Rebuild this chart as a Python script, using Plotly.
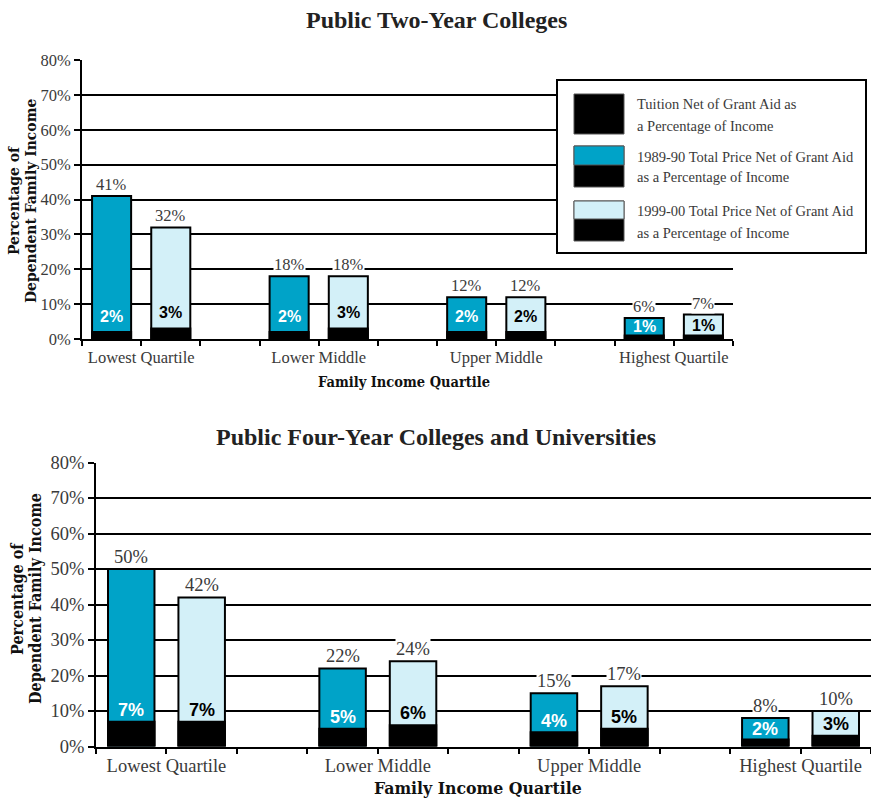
import plotly.graph_objects as go

# ---------------- data ----------------
categories = ["Lowest Quartile", "Lower Middle", "Upper Middle", "Highest Quartile"]

two_year_total_1989 = [41, 18, 12, 6]
two_year_total_1999 = [32, 18, 12, 7]
two_year_tuition_1989 = [2, 2, 2, 1]
two_year_tuition_1999 = [3, 3, 2, 1]

four_year_total_1989 = [50, 22, 15, 8]
four_year_total_1999 = [42, 24, 17, 10]
four_year_tuition_1989 = [7, 5, 4, 2]
four_year_tuition_1999 = [7, 6, 5, 3]

y_ticks = [0, 10, 20, 30, 40, 50, 60, 70, 80]
y_tick_labels = [f"{v}%" for v in y_ticks]

legend_labels = [
    ["Tuition Net of Grant Aid as", "a Percentage of Income"],
    ["1989-90 Total Price Net of Grant Aid", "as a Percentage of Income"],
    ["1999-00 Total Price Net of Grant Aid", "as a Percentage of Income"],
]

# ---------------- style ----------------
W, H = 871, 799
TEAL = "#00A3C8"
LIGHT = "#D3F0F8"
BLACK = "#000000"
TICKFONT = "Liberation Serif"
BOLDSERIF = "DejaVu Serif Condensed, DejaVu Serif"
TITLEFONT = "Liberation Serif"
INNERFONT = "Liberation Sans"
GREY = "#3a3a3a"


def px(x, y):
    return x / W, (H - y) / H


fig = go.Figure()

panels = [
    dict(xa="x", ya="y", t89=two_year_total_1989, t99=two_year_total_1999,
         u89=two_year_tuition_1989, u99=two_year_tuition_1999,
         off=4.5, lblsize=16.5, innersize=16),
    dict(xa="x2", ya="y2", t89=four_year_total_1989, t99=four_year_total_1999,
         u89=four_year_tuition_1989, u99=four_year_tuition_1999,
         off=3.3, lblsize=18.5, innersize=18),
]

BW = 0.66
annotations = []
for p in panels:
    x89 = [3 * i for i in range(len(categories))]
    x99 = [3 * i + 1 for i in range(len(categories))]
    for xs, tot, tui, col, tcol in [(x89, p["t89"], p["u89"], TEAL, "white"),
                                    (x99, p["t99"], p["u99"], LIGHT, "black")]:
        fig.add_trace(go.Bar(x=xs, y=tot, width=BW, marker=dict(color=col, line=dict(color=BLACK, width=2)),
                             xaxis=p["xa"], yaxis=p["ya"], showlegend=False, hoverinfo="skip"))
        fig.add_trace(go.Bar(x=xs, y=tui, width=BW, marker=dict(color=BLACK, line=dict(color=BLACK, width=2)),
                             xaxis=p["xa"], yaxis=p["ya"], showlegend=False, hoverinfo="skip"))
        for xv, tv, uv in zip(xs, tot, tui):
            annotations.append(dict(x=xv, y=tv, xref=p["xa"], yref=p["ya"], text=f"{tv}%",
                                    showarrow=False, yanchor="bottom", yshift=1, bgcolor="white",
                                    borderpad=0,
                                    font=dict(family=TICKFONT, size=p["lblsize"], color=GREY)))
            ly = uv + min(p["off"], (tv - uv) / 2.0)
            annotations.append(dict(x=xv, y=ly, xref=p["xa"], yref=p["ya"], text=f"<b>{uv}%</b>",
                                    showarrow=False, yanchor="middle",
                                    font=dict(family=INNERFONT, size=p["innersize"], color=tcol)))

fig.update_layout(barmode="overlay")

common_x = dict(range=[-0.5, 10.5], tickmode="array",
                tickvals=[3 * i + 0.5 for i in range(len(categories))], ticktext=categories,
                ticks="outside", ticklen=5, tickcolor=BLACK, tickwidth=1.5,
                showline=True, linecolor=BLACK, linewidth=2, showgrid=False, zeroline=False,
                minor=dict(ticks="outside", tickmode="linear", tick0=-0.5, dtick=1, ticklen=5,
                           tickcolor=BLACK, tickwidth=1.5, showgrid=False),
                fixedrange=True, automargin=False)
common_y = dict(range=[0, 80], tickmode="array", tickvals=y_ticks, ticktext=y_tick_labels,
                ticks="outside", ticklen=6, tickcolor=BLACK, tickwidth=1.5,
                showline=True, linecolor=BLACK, linewidth=2,
                showgrid=True, gridcolor=BLACK, gridwidth=1.5, zeroline=False, fixedrange=True,
                automargin=False)

fig.update_layout(
    xaxis=dict(common_x, domain=[82 / W, 733 / W], anchor="y", ticklabelstandoff=-3,
               tickfont=dict(family=TICKFONT, size=16.5, color=GREY)),
    yaxis=dict(common_y, domain=[(H - 339) / H, (H - 60) / H], anchor="x",
               tickfont=dict(family=TICKFONT, size=16.5, color=GREY)),
    xaxis2=dict(common_x, domain=[96 / W, 1.0], anchor="y2", ticklabelstandoff=-4,
                tickfont=dict(family=TICKFONT, size=18.5, color=GREY)),
    yaxis2=dict(common_y, domain=[(H - 746.5) / H, (H - 462.5) / H], anchor="x2",
                tickfont=dict(family=TICKFONT, size=18.5, color=GREY)),
)

# titles
for text, x, y, size in [("Public Two-Year Colleges", 436, 20, 24),
                         ("Public Four-Year Colleges and Universities", 436, 437, 24)]:
    xx, yy = px(x, y)
    annotations.append(dict(x=xx, y=yy, xref="paper", yref="paper", text=f"<b>{text}</b>",
                            showarrow=False, xanchor="center", yanchor="middle",
                            font=dict(family=TITLEFONT, size=size, color="#222")))

# x-axis titles
for x, y, size in [(404, 382, 14.5), (478, 788, 17.5)]:
    xx, yy = px(x, y)
    annotations.append(dict(x=xx, y=yy, xref="paper", yref="paper", text="<b>Family Income Quartile</b>",
                            showarrow=False, xanchor="center", yanchor="middle",
                            font=dict(family=BOLDSERIF, size=size, color="#111")))

# y-axis titles (two lines each)
for (x1_, x2_), y, size in [((13, 30), 201, 15.5), ((17, 35), 599, 16)]:
    for t, xv in [("Percentage of", x1_), ("Dependent Family Income", x2_)]:
        xx, yy = px(xv, y)
        annotations.append(dict(x=xx, y=yy, xref="paper", yref="paper", text=f"<b>{t}</b>",
                                showarrow=False, textangle=-90, xanchor="center", yanchor="middle",
                                font=dict(family=BOLDSERIF, size=size, color="#111")))

# legend drawn as shapes
shapes = []
x0, y0 = px(557, 253)
x1, y1 = px(866, 80)
shapes.append(dict(type="rect", xref="paper", yref="paper", x0=x0, y0=y0, x1=x1, y1=y1,
                   fillcolor="white", line=dict(color=BLACK, width=2), layer="above"))
swatches = [(94, 134, None, BLACK), (146, 187, 165, TEAL), (201, 241, 219, LIGHT)]
for top, bot, mid, col in swatches:
    a0, b0 = px(574, bot)
    a1, b1 = px(624, top)
    shapes.append(dict(type="rect", xref="paper", yref="paper", x0=a0, y0=b0, x1=a1, y1=b1,
                       fillcolor=BLACK, line=dict(color="#555", width=1), layer="above"))
    if mid is not None:
        _, bm = px(0, mid)
        shapes.append(dict(type="rect", xref="paper", yref="paper", x0=a0, y0=bm, x1=a1, y1=b1,
                           fillcolor=col, line=dict(color="#555", width=1), layer="above"))
line_ys = [(104, 126), (157, 177), (211, 233)]
for (l1, l2), (ya, yb) in zip(legend_labels, line_ys):
    for t, yv in [(l1, ya), (l2, yb)]:
        xx, yy = px(635, yv)
        annotations.append(dict(x=xx, y=yy, xref="paper", yref="paper", text=t, showarrow=False,
                                xanchor="left", yanchor="middle",
                                font=dict(family=TICKFONT, size=14.5, color=GREY)))

fig.update_layout(
    width=W, height=H, margin=dict(l=0, r=0, t=0, b=0, autoexpand=False),
    paper_bgcolor="white", plot_bgcolor="white",
    showlegend=False, annotations=annotations, shapes=shapes,
)

fig.write_html("out.html", config={"displayModeBar": False},
               post_script="document.body.style.margin='0';document.body.style.overflow='hidden';")
